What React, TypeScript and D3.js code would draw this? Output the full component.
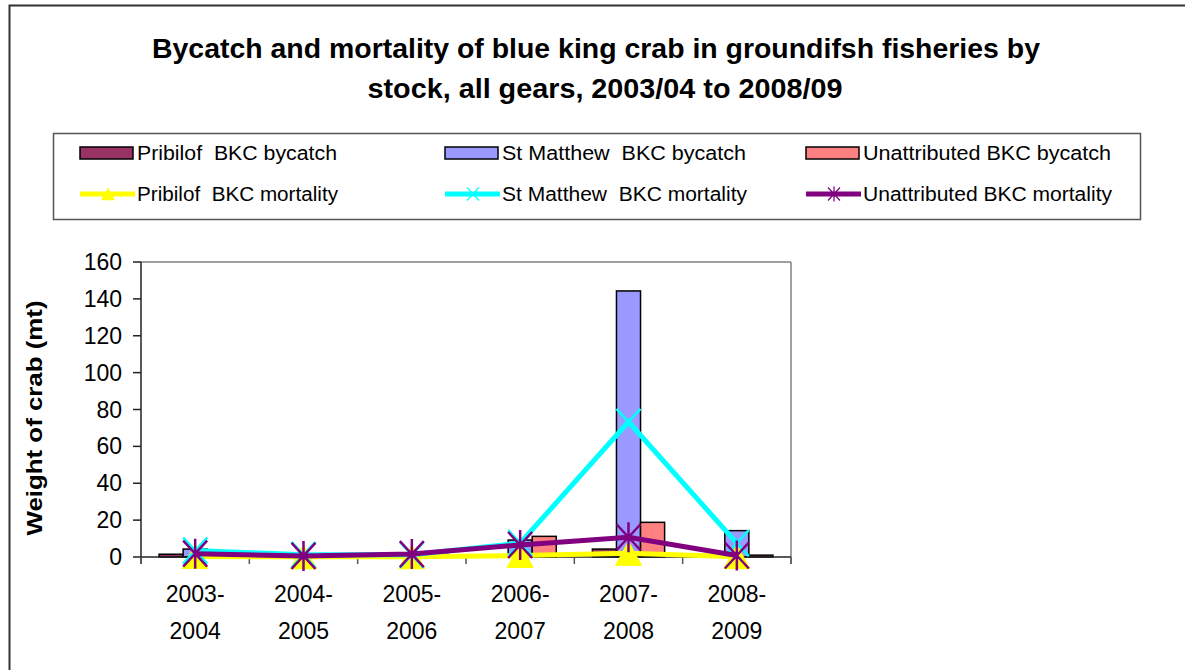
import React from "react";
import * as d3 from "d3";

const categories = ["2003-2004", "2004-2005", "2005-2006", "2006-2007", "2007-2008", "2008-2009"];
const catLine1 = ["2003-", "2004-", "2005-", "2006-", "2007-", "2008-"];
const catLine2 = ["2004", "2005", "2006", "2007", "2008", "2009"];

const pribilofBycatch = [1.5, 0, 0, 0.3, 4.3, 0.5];
const stMatthewBycatch = [4.3, 1.0, 1.0, 9.2, 144.3, 14.3];
const unattributedBycatch = [1.0, 0.5, 1.5, 11.2, 18.8, 1.0];

const pribilofMortality = [0.3, 0.1, 0.1, 0.8, 2.0, 0.2];
const stMatthewMortality = [3.5, 1.2, 1.2, 7.5, 73.3, 7.5];
const unattributedMortality = [1.8, 0.6, 1.6, 6.5, 10.7, 0.8];

const yTicks = [0, 20, 40, 60, 80, 100, 120, 140, 160];

const barSeries = [
  { name: "Pribilof  BKC bycatch", values: pribilofBycatch, color: "#993366", len: 200 },
  { name: "St Matthew  BKC bycatch", values: stMatthewBycatch, color: "#9999FF", len: 244 },
  { name: "Unattributed BKC bycatch", values: unattributedBycatch, color: "#FF8080", len: 248 },
];
const lineSeries = [
  { name: "Pribilof  BKC mortality", values: pribilofMortality, color: "#FFFF00", marker: "triangle", len: 201 },
  { name: "St Matthew  BKC mortality", values: stMatthewMortality, color: "#00FFFF", marker: "x", len: 245 },
  { name: "Unattributed BKC mortality", values: unattributedMortality, color: "#800080", marker: "star", len: 249 },
];

const FONT = "'Liberation Sans', Arial, sans-serif";

function Marker({ type, cx, cy, color }: { type: string; cx: number; cy: number; color: string }) {
  if (type === "triangle") {
    return <path d={`M${cx},${cy - 12}L${cx + 13},${cy + 12}L${cx - 13},${cy + 12}Z`} fill={color} stroke={color} strokeWidth={1} />;
  }
  const hw = 12, hh = 13;
  const xPath = `M${cx - hw},${cy - hh}L${cx + hw},${cy + hh}M${cx + hw},${cy - hh}L${cx - hw},${cy + hh}`;
  if (type === "x") {
    return <path d={xPath} stroke={color} strokeWidth={2.5} fill="none" />;
  }
  return <path d={`${xPath}M${cx},${cy - hh - 2}L${cx},${cy + hh + 2}`} stroke={color} strokeWidth={2.5} fill="none" />;
}

export default function App() {
  const left = 141, right = 791, top = 262, bottom = 557;
  const x = d3.scaleBand<string>().domain(categories).range([left, right]).paddingInner(0).paddingOuter(0);
  const y = d3.scaleLinear().domain([0, 160]).range([bottom, top]);
  const bw = x.bandwidth() / 4.5;
  const xs = d3.scaleBand<number>().domain([0, 1, 2]).range([0, bw * 3]);
  const cx = (c: string) => (x(c) as number) + x.bandwidth() / 2;

  const line = d3.line<number>().x((_, i) => cx(categories[i])).y((d) => y(d));

  const legendCols = [80, 445, 806];
  const legendRows = [153, 194];

  return (
    <svg width={1185} height={670} style={{ position: "absolute", left: 0, top: 0, background: "#fff" }} fontFamily={FONT}>
      <rect x={0} y={0} width={1185} height={670} fill="#fff" />
      <rect x={9.5} y={5.5} width={1300} height={800} fill="none" stroke="#333" strokeWidth={2} />

      <text x={596} y={58} textAnchor="middle" fontSize={27} fontWeight="bold" textLength={888} lengthAdjust="spacingAndGlyphs">
        Bycatch and mortality of blue king crab in groundifsh fisheries by
      </text>
      <text x={605} y={98} textAnchor="middle" fontSize={27} fontWeight="bold" textLength={475} lengthAdjust="spacingAndGlyphs">
        stock, all gears, 2003/04 to 2008/09
      </text>

      <rect x={53.5} y={133.5} width={1087} height={86} fill="#fff" stroke="#555" strokeWidth={1.5} />
      {barSeries.map((s, i) => (
        <g key={s.name}>
          <rect x={legendCols[i]} y={legendRows[0] - 6} width={53} height={12} fill={s.color} stroke="#000" strokeWidth={1.5} />
          <text x={legendCols[i] + 57} y={legendRows[0] + 7} fontSize={20} style={{ whiteSpace: "pre" }} textLength={s.len} lengthAdjust="spacingAndGlyphs">
            {s.name}
          </text>
        </g>
      ))}
      {lineSeries.map((s, i) => (
        <g key={s.name}>
          <line x1={legendCols[i]} x2={legendCols[i] + 55} y1={legendRows[1]} y2={legendRows[1]} stroke={s.color} strokeWidth={5} />
          <g transform={`translate(${legendCols[i] + 28},${legendRows[1]}) scale(0.5)`}>
            <Marker type={s.marker} cx={0} cy={0} color={s.color} />
          </g>
          <text x={legendCols[i] + 57} y={legendRows[1] + 7} fontSize={20} style={{ whiteSpace: "pre" }} textLength={s.len} lengthAdjust="spacingAndGlyphs">
            {s.name}
          </text>
        </g>
      ))}

      {/* plot frame */}
      <line x1={left} x2={right} y1={top} y2={top} stroke="#808080" strokeWidth={1.5} />
      <line x1={right} x2={right} y1={top} y2={bottom + 7} stroke="#808080" strokeWidth={1.5} />

      {/* bars */}
      {barSeries.map((s, si) =>
        s.values.map((v, i) => {
          const c = categories[i];
          const x0 = cx(c) - 1.5 * bw + (xs(si) as number);
          return (
            <rect key={s.name + i} x={x0} y={y(v)} width={bw} height={Math.max(0, y(0) - y(v))} fill={s.color} stroke="#000" strokeWidth={1.5} />
          );
        })
      )}

      {/* axes */}
      <line x1={left} x2={left} y1={top} y2={bottom + 7} stroke="#222" strokeWidth={1.5} />
      {yTicks.map((t) => (
        <g key={t}>
          <line x1={left - 8} x2={left} y1={y(t)} y2={y(t)} stroke="#222" strokeWidth={1.5} />
          <text x={122} y={y(t) + 8} textAnchor="end" fontSize={23}>
            {t}
          </text>
        </g>
      ))}
      <line x1={left} x2={right} y1={bottom} y2={bottom} stroke="#222" strokeWidth={1.5} />
      {d3.range(categories.length + 1).map((k) => {
        const xx = left + k * x.step();
        return <line key={k} x1={xx} x2={xx} y1={bottom} y2={bottom + 7} stroke="#555" strokeWidth={1.5} />;
      })}
      {categories.map((c, i) => (
        <g key={c}>
          <text x={cx(c)} y={602} textAnchor="middle" fontSize={23}>
            {catLine1[i]}
          </text>
          <text x={cx(c)} y={639} textAnchor="middle" fontSize={23}>
            {catLine2[i]}
          </text>
        </g>
      ))}
      <text transform={`translate(42,418) rotate(-90)`} textAnchor="middle" fontSize={22} fontWeight="bold" textLength={235} lengthAdjust="spacingAndGlyphs">
        Weight of crab (mt)
      </text>

      {/* lines */}
      {lineSeries.map((s) => (
        <g key={s.name}>
          <path d={line(s.values) || ""} fill="none" stroke={s.color} strokeWidth={5} />
          {s.values.map((v, i) => (
            <Marker key={i} type={s.marker} cx={cx(categories[i])} cy={y(v)} color={s.color} />
          ))}
        </g>
      ))}
    </svg>
  );
}
